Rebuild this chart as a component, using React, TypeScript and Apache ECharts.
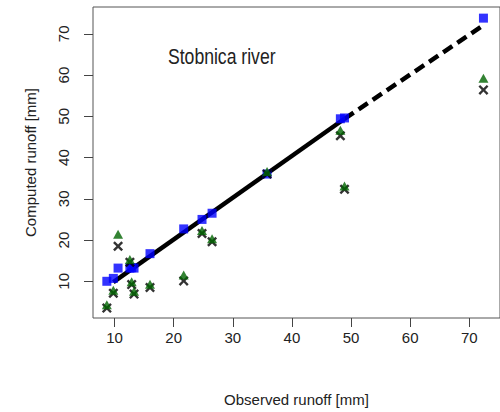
import React, { useEffect, useRef } from "react";
import * as echarts from "echarts";

const observed = [8.7, 9.8, 10.6, 12.6, 12.9, 13.3, 16.0, 21.7, 24.8, 26.5, 35.8, 48.2, 48.9, 72.4];
const modelBlue = [10.0, 10.7, 13.2, 13.2, 13.3, 13.2, 16.7, 22.7, 25.0, 26.5, 36.0, 49.4, 49.6, 73.8];
const modelGreen = [4.3, 7.8, 21.4, 15.3, 9.9, 7.6, 9.3, 11.5, 22.3, 20.3, 36.6, 46.6, 33.1, 59.2];
const modelBlack = [3.5, 7.1, 18.5, 14.6, 9.2, 6.9, 8.5, 10.1, 21.6, 19.6, 36.0, 45.3, 32.3, 56.4];
const fitSolidX = [9.8, 48.9];
const fitSolidY = [9.8, 49.4];
const fitDashX = [48.9, 72.1];
const fitDashY = [49.4, 71.8];
const tickValues = [10, 20, 30, 40, 50, 60, 70];

const FONT = "'Liberation Sans', Arial, sans-serif";
const XSYM =
  "path://M0,0.17L0.17,0L0.5,0.33L0.83,0L1,0.17L0.67,0.5L1,0.83L0.83,1L0.5,0.67L0.17,1L0,0.83L0.33,0.5Z";

const zip = (a: number[], b: number[]) => a.map((v, i) => [v, b[i]]);

export default function App() {
  const ref = useRef<HTMLDivElement>(null);
  useEffect(() => {
    const chart = echarts.init(ref.current!, null, { renderer: "svg" });
    const axisCommon = {
      type: "value" as const,
      splitLine: { show: false },
      axisLine: { show: false },
      axisTick: {
        show: true,
        length: 9,
        inside: false,
        customValues: tickValues,
        lineStyle: { color: "#444", width: 1 },
      },
    };
    chart.setOption({
      animation: false,
      grid: {
        left: 93,
        top: 7,
        width: 410,
        height: 316,
        show: true,
        borderColor: "#555",
        borderWidth: 1,
        backgroundColor: "transparent",
      },
      xAxis: {
        ...axisCommon,
        min: 6.36,
        max: 75.2,
        name: "Observed runoff [mm]",
        nameLocation: "middle",
        nameGap: 74,
        nameTextStyle: { fontFamily: FONT, fontSize: 15, color: "#222" },
        axisLabel: {
          customValues: tickValues,
          margin: 12,
          fontFamily: FONT,
          fontSize: 15,
          color: "#222",
        },
      },
      yAxis: {
        ...axisCommon,
        min: 1.1,
        max: 76.5,
        name: "Computed runoff [mm]",
        nameLocation: "middle",
        nameRotate: 90,
        nameGap: 55,
        nameTextStyle: { fontFamily: FONT, fontSize: 15, color: "#222" },
        axisLabel: {
          customValues: tickValues,
          rotate: 90,
          margin: 22,
          fontFamily: FONT,
          fontSize: 15,
          color: "#222",
        },
      },
      graphic: [
        {
          type: "text",
          x: 168,
          y: 45,
          scaleX: 0.8,
          style: {
            text: "Stobnica river",
            fontFamily: FONT,
            fontSize: 22,
            fill: "#222",
          },
        },
      ],
      series: [
        {
          type: "line",
          data: zip(fitSolidX, fitSolidY),
          symbol: "none",
          lineStyle: { color: "#000", width: 4.5 },
          z: 1,
        },
        {
          type: "line",
          data: zip(fitDashX, fitDashY),
          symbol: "none",
          lineStyle: { color: "#000", width: 4.5, type: [11, 6] },
          z: 1,
        },
        {
          type: "scatter",
          data: zip(observed, modelBlue),
          symbol: "rect",
          symbolSize: 9,
          itemStyle: { color: "#0000ff" },
          z: 2,
        },
        {
          type: "scatter",
          data: zip(observed, modelBlack),
          symbol: XSYM,
          symbolSize: 10,
          itemStyle: { color: "#000" },
          z: 3,
        },
        {
          type: "scatter",
          data: zip(observed, modelGreen),
          symbol: "triangle",
          symbolSize: [10, 9],
          itemStyle: { color: "#006400" },
          z: 4,
        },
      ],
    });
    return () => chart.dispose();
  }, []);
  return (
    <div
      ref={ref}
      style={{ position: "fixed", left: 0, top: 0, width: 500, height: 412, background: "#fff" }}
    />
  );
}
